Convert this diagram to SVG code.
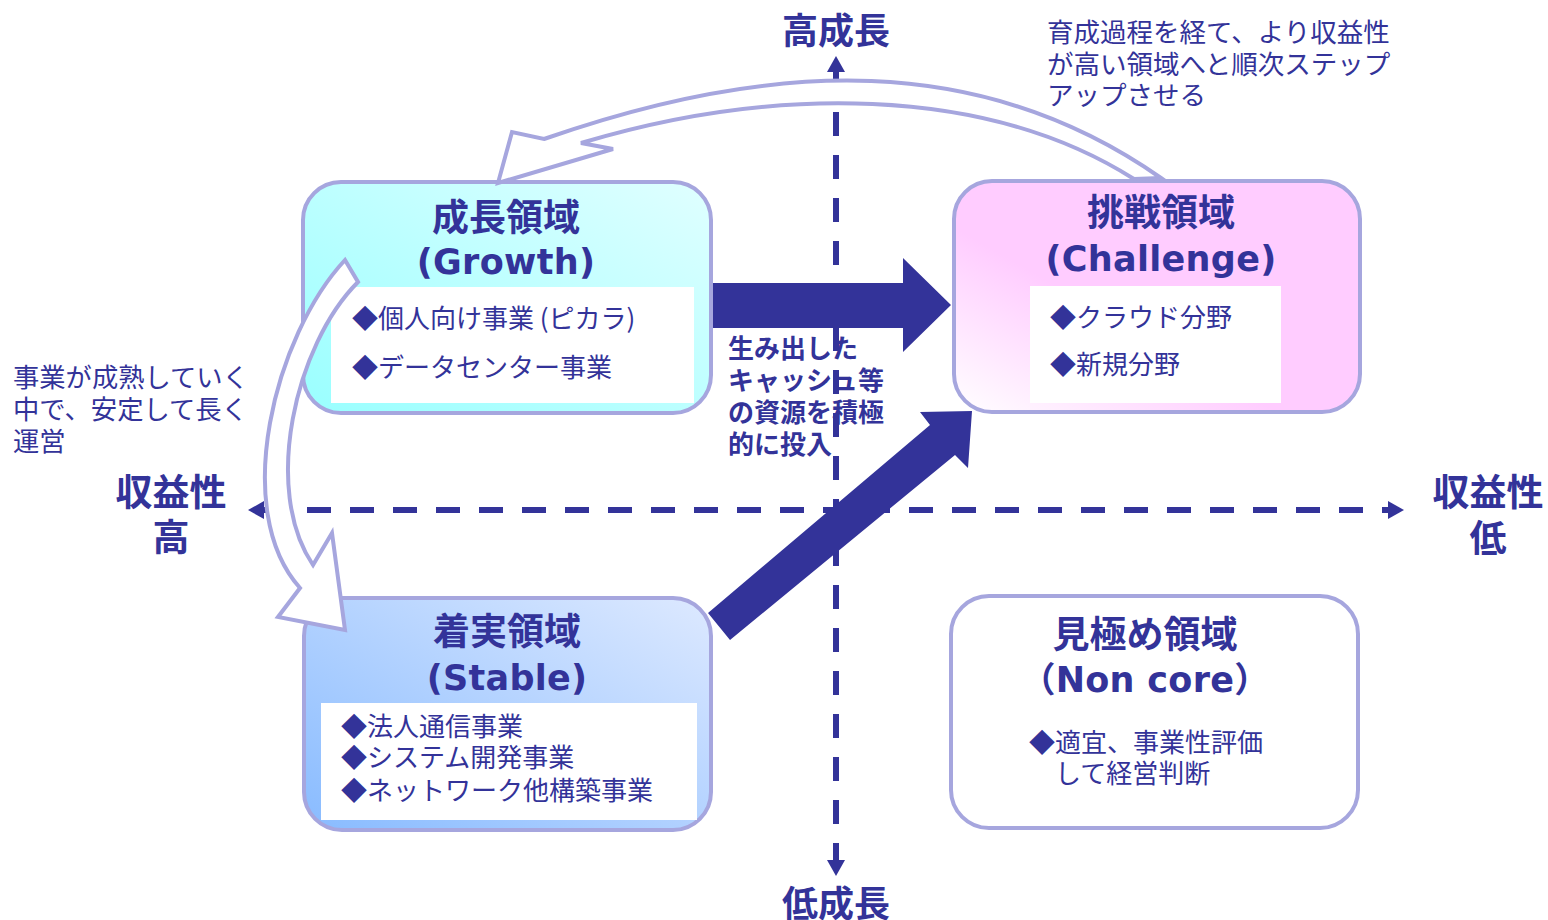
<svg xmlns="http://www.w3.org/2000/svg" width="1548" height="920" viewBox="0 0 1548 920">
<defs>
<style>
.box{stroke:#a6a6de;stroke-width:4}
.inner{fill:#fff}
.t{font-family:"Noto Sans CJK JP","Noto Sans CJK SC",sans-serif;fill:#333399}
.b{font-weight:700}
.lat{font-family:"DejaVu Sans","Noto Sans CJK JP",sans-serif;font-weight:700;fill:#333399;font-size:35px;letter-spacing:0.3px}
.axis{stroke:#333399;stroke-width:6;stroke-dasharray:24 19;fill:none}
.curve{fill:#fff;stroke:#a6a6de;stroke-width:4;stroke-linejoin:miter}
.solid{fill:#333399}
</style>
<linearGradient id="gGrowth" x1="0" y1="1" x2="1" y2="0"><stop offset="0" stop-color="#99ffff"/><stop offset="1" stop-color="#e0ffff"/></linearGradient>
<linearGradient id="gChal" x1="0" y1="1" x2="0.4" y2="0.6"><stop offset="0" stop-color="#ffffff"/><stop offset="1" stop-color="#ffccff"/></linearGradient>
<linearGradient id="gStable" x1="0" y1="1" x2="1" y2="0"><stop offset="0" stop-color="#88bbff"/><stop offset="1" stop-color="#dde9ff"/></linearGradient>
<marker id="ah" markerUnits="userSpaceOnUse" viewBox="0 -10 20 20" markerWidth="20" markerHeight="20" refX="0" refY="0" orient="auto-start-reverse"><path d="M0,-9 L16,0 L0,9 Z" fill="#333399"/></marker>
</defs>
<rect width="1548" height="920" fill="#fff"/>

<g id="axes">
<line class="axis" x1="836" y1="72" x2="836" y2="860" stroke-dashoffset="3" marker-start="url(#ah)" marker-end="url(#ah)"/>
<line class="axis" x1="264" y1="510" x2="1388" y2="510" marker-start="url(#ah)" marker-end="url(#ah)"/>
</g>

<g id="connectors">
<polygon class="solid" points="708,613 930,425 920,412 972,411 968,468 955,455 730,640"/>
<polygon class="solid" points="713,283 903,283 903,258 951,305 903,352 903,328 713,328"/>
</g>

<g id="growth">
<rect class="box" x="303" y="182" width="408" height="231" rx="38" fill="url(#gGrowth)"/>
<rect class="inner" x="331" y="287" width="363" height="116"/>
<text class="t b" x="506" y="231" font-size="37" text-anchor="middle">成長領域</text>
<text class="lat" x="506" y="274" text-anchor="middle">(Growth)</text>
<text class="t" x="352" y="328" font-size="26">◆個人向け事業 (ピカラ)</text>
<text class="t" x="352" y="377" font-size="26">◆データセンター事業</text>
</g>

<g id="challenge">
<rect class="box" x="954" y="181" width="406" height="231" rx="38" fill="url(#gChal)"/>
<rect class="inner" x="1030" y="286" width="251" height="117"/>
<text class="t b" x="1161" y="226" font-size="37" text-anchor="middle">挑戦領域</text>
<text class="lat" x="1161" y="271" text-anchor="middle">(Challenge)</text>
<text class="t" x="1050" y="327" font-size="26">◆クラウド分野</text>
<text class="t" x="1050" y="374" font-size="26">◆新規分野</text>
</g>

<g id="stable">
<rect class="box" x="304" y="598" width="407" height="232" rx="38" fill="url(#gStable)"/>
<rect class="inner" x="321" y="703" width="376" height="117"/>
<text class="t b" x="507" y="645" font-size="37" text-anchor="middle">着実領域</text>
<text class="lat" x="507" y="690" text-anchor="middle">(Stable)</text>
<text class="t" x="341" y="736" font-size="26">◆法人通信事業</text>
<text class="t" x="341" y="767" font-size="26">◆システム開発事業</text>
<text class="t" x="341" y="800" font-size="26">◆ネットワーク他構築事業</text>
</g>

<g id="noncore">
<rect class="box" x="951" y="596" width="407" height="232" rx="38" fill="#fff"/>
<text class="t b" x="1145" y="648" font-size="37" text-anchor="middle">見極め領域</text>
<text class="lat" x="1145" y="692" text-anchor="middle">（Non core）</text>
<text class="t" x="1029" y="752" font-size="26">◆適宜、事業性評価</text>
<text class="t" x="1055" y="783" font-size="26">して経営判断</text>
</g>

<g id="invest-label">
<text class="t b" font-size="26"><tspan x="728" y="358">生み出した</tspan><tspan x="728" y="390">キャッシュ等</tspan><tspan x="728" y="422">の資源を積極</tspan><tspan x="728" y="454">的に投入</tspan></text>
</g>

<g id="curved-arrows">
<path class="curve" d="M1161,178 C981,52 774,58.5 544,139 L512,132 L498,183 L613,149 L581,143 C771,86 984,84 1134,179 Z"/>
<path class="curve" d="M345,260 C275,335 230,510 300,588 L278,617 L345,630 L332,533 L313,565 C262,490 295,345 358,282 Z"/>
</g>

<g id="notes">
<text class="t" font-size="26.5"><tspan x="1047" y="42">育成過程を経て、より収益性</tspan><tspan x="1047" y="74">が高い領域へと順次ステップ</tspan><tspan x="1047" y="105">アップさせる</tspan></text>
<text class="t" font-size="26.3"><tspan x="13" y="387">事業が成熟していく</tspan><tspan x="13" y="419">中で、安定して長く</tspan><tspan x="13" y="451">運営</tspan></text>
</g>

<g id="axis-labels">
<text class="t b" x="836" y="44" font-size="36" text-anchor="middle">高成長</text>
<text class="t b" x="836" y="917" font-size="36" text-anchor="middle">低成長</text>
<text class="t b" x="171" y="506" font-size="37" text-anchor="middle">収益性</text>
<text class="t b" x="171" y="551" font-size="37" text-anchor="middle">高</text>
<text class="t b" x="1488" y="506" font-size="37" text-anchor="middle">収益性</text>
<text class="t b" x="1488" y="552" font-size="37" text-anchor="middle">低</text>
</g>
</svg>
